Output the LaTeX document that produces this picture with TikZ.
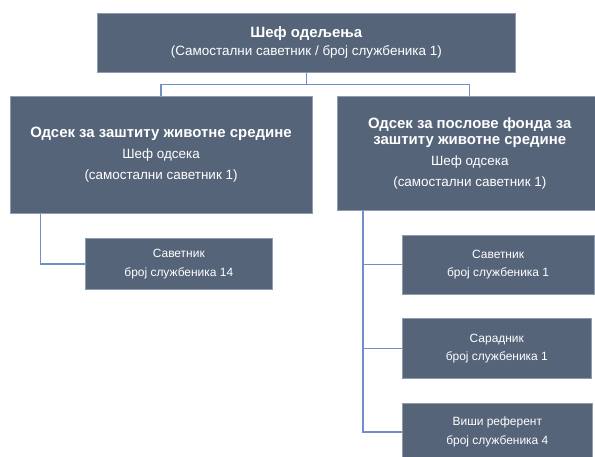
\documentclass[tikz,border=0pt]{standalone}
\usepackage{fontspec}
\setmainfont{Liberation Sans}
\definecolor{boxfill}{HTML}{566479}
\definecolor{boxedge}{HTML}{8E9CB0}
\definecolor{linkblue}{HTML}{6F8FC8}
\newcommand{\unitname}[1]{{\fontsize{15}{15}\selectfont\bfseries #1}}
\tikzset{
  unit/.style={fill=boxfill, draw=boxedge, line width=0.6bp, text=white,
    align=center, inner sep=0pt, anchor=north west,
    font=\fontsize{13.5}{16}\selectfont},
  staff/.style={unit, font=\fontsize{12}{14.5}\selectfont},
  link/.style={draw=linkblue, line width=1.2bp},
}
\begin{document}
\begin{tikzpicture}[x=1bp,y=-1bp]
  \useasboundingbox (0,0) rectangle (595,457);
  %% head of the department
  \node[unit, minimum width=418bp, minimum height=59bp] (head) at (97,13)
    {\unitname{Шеф одељења}\\[2bp](Самостални саветник / број службеника 1)};
  %% sections
  \node[unit, minimum width=302.5bp, minimum height=117bp] (env) at (9.5,96)
    {\unitname{Одсек за заштиту животне средине}\\[5bp]Шеф одсека\\[5bp](самостални саветник 1)};
  \node[unit, minimum width=265bp, minimum height=114bp] (fund) at (337,96)
    {\unitname{Одсек за послове фонда за}\\\unitname{заштиту животне средине}\\[5bp]Шеф одсека\\[5bp](самостални саветник 1)};
  %% staff, left section
  \node[staff, minimum width=187bp, minimum height=50.5bp] (envadv) at (85,238.5)
    {Саветник\\[4bp]број службеника 14};
  %% staff, right section
  \node[staff, minimum width=192.5bp, minimum height=59.3bp] (fundadv) at (401.5,234.7)
    {Саветник\\[4bp]број службеника 1};
  \node[staff, minimum width=189bp, minimum height=60bp] (fundass) at (402,318)
    {Сарадник\\[4bp]број службеника 1};
  \node[staff, minimum width=190bp, minimum height=58bp] (fundref) at (402,402.7)
    {Виши референт\\[4bp]број службеника 4};
  %% links
  \draw[link] (head.south) -- ++(0,12) -| (env.north);
  \draw[link] (head.south) -- ++(0,12) -| (fund.north);
  \draw[link] ([xshift=31bp]env.south west) |- (envadv.west);
  \draw[link] ([xshift=26bp]fund.south west) |- (fundadv.west);
  \draw[link] ([xshift=26bp]fund.south west) |- (fundass.west);
  \draw[link] ([xshift=26bp]fund.south west) |- (fundref.west);
\end{tikzpicture}
\end{document}
